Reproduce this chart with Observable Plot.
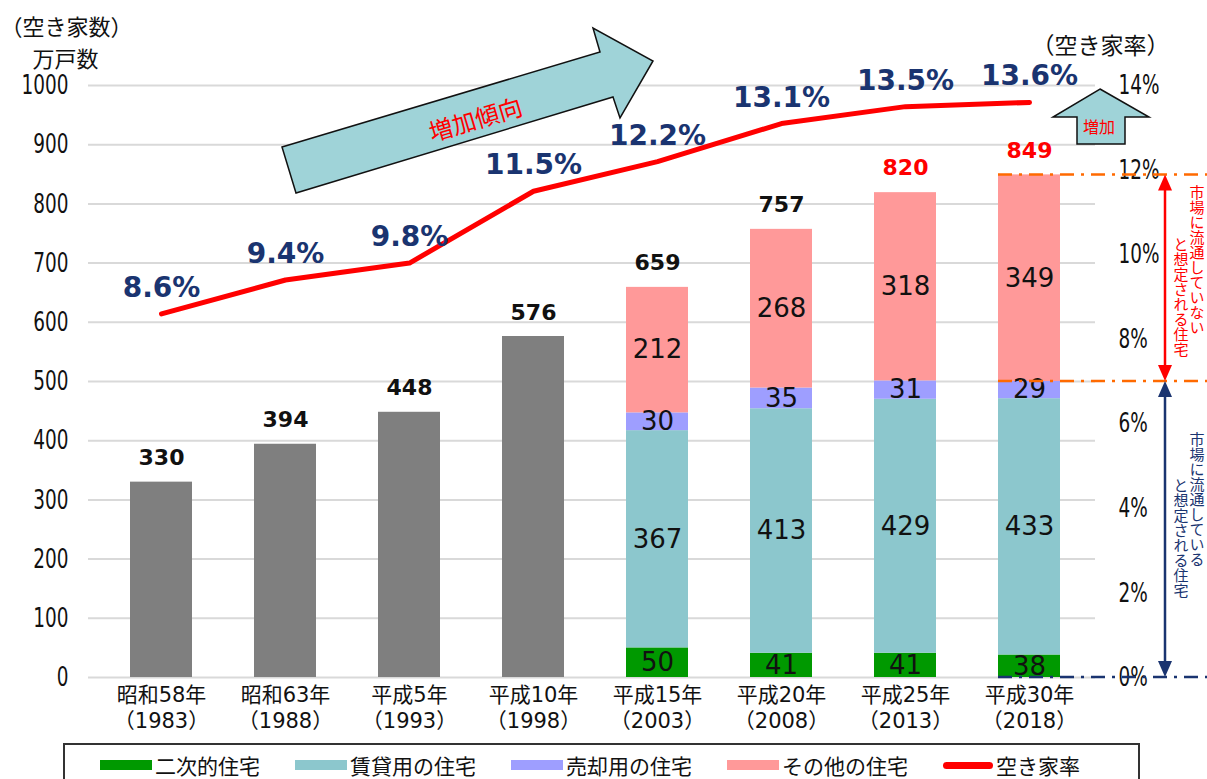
<!DOCTYPE html>
<html><head><meta charset="utf-8">
<script src="https://cdn.jsdelivr.net/npm/d3@7"></script>
<script src="https://cdn.jsdelivr.net/npm/@observablehq/plot@0.6"></script>
<style>
body{margin:0;background:#fff;font-family:"Noto Sans CJK JP",sans-serif;}
#wrap{position:relative;width:1207px;height:779px;overflow:hidden;background:#fff;}
#chart svg{display:block;}
.legend{position:absolute;left:63px;top:743px;width:1077px;height:60px;border:2px solid #333;box-sizing:border-box;display:flex;gap:35px;padding-left:35px;padding-top:8px;align-items:flex-start;}
.li{display:flex;align-items:center;font-size:21px;color:#111;line-height:24px;}
.sw{width:52px;height:10px;margin-right:3px;}
.ln{width:50px;height:7px;border-radius:4px;margin-right:3px;background:#ff0000;}
</style></head>
<body><div id="wrap"><div id="chart"></div><div class="legend" id="legend"></div></div>
<script>
// ---- data ----
const categories = ["昭和58年","昭和63年","平成5年","平成10年","平成15年","平成20年","平成25年","平成30年"];
const years = ["（1983）","（1988）","（1993）","（1998）","（2003）","（2008）","（2013）","（2018）"];
const totals = [330, 394, 448, 576, 659, 757, 820, 849];
const rates = [8.6, 9.4, 9.8, 11.5, 12.2, 13.1, 13.5, 13.6];
const stackCategories = ["平成15年","平成20年","平成25年","平成30年"];
const secondary = [50, 41, 41, 38];
const rental = [367, 413, 429, 433];
const forSale = [30, 35, 31, 29];
const other = [212, 268, 318, 349];
const seriesNames = ["二次的住宅","賃貸用の住宅","売却用の住宅","その他の住宅"];
const seriesColors = ["#009900","#8cc7cd","#9e9eff","#ff9999"];
const redTotals = ["平成25年","平成30年"];
const leftTicks = [0,100,200,300,400,500,600,700,800,900,1000];
const rightTicks = [0,2,4,6,8,10,12,14];
const rateLabel = "空き家率";

// ---- derived tables ----
const rateMax = 14, countMax = 1000;
const toLeft = r => r * countMax / rateMax;
const totalRows = categories.map((c, i) => ({cat: c, total: totals[i]}));
const earlyRows = totalRows.filter(d => !stackCategories.includes(d.cat));
const seriesValues = [secondary, rental, forSale, other];
const stackRows = [];
stackCategories.forEach((c, j) => {
  let acc = 0;
  seriesNames.forEach((s, k) => {
    const v = seriesValues[k][j];
    stackRows.push({cat: c, series: s, value: v, y1: acc, y2: acc + v});
    acc += v;
  });
});
const rateRows = categories.map((c, i) => ({cat: c, rate: rates[i]}));
const numFont = "DejaVu Sans";
const tickFont = "DejaVu Sans Condensed";
const cjk = "Noto Sans CJK JP";
const labFont = "DejaVu Sans, Noto Sans CJK JP";

const chart = Plot.plot({
  width: 1207, height: 741,
  marginLeft: 88, marginRight: 112, marginTop: 85, marginBottom: 64,
  x: {type: "band", domain: categories, range: [99, 1091], paddingInner: 0.5, paddingOuter: 0.25, axis: null},
  y: {domain: [0, 1000], axis: null},
  color: {domain: seriesNames, range: seriesColors},
  marks: [
    Plot.ruleY(leftTicks, {stroke: "#d9d9d9", strokeWidth: 2}),
    Plot.barY(earlyRows, {x: "cat", y: "total", fill: "#7f7f7f"}),
    Plot.barY(stackRows, {x: "cat", y1: "y1", y2: "y2", fill: "series"}),
    Plot.text(stackRows, {x: "cat", y: d => (d.y1 + d.y2) / 2, text: "value", fontSize: 26, fontFamily: numFont, fill: "#111"}),
    Plot.text(totalRows.filter(d => !redTotals.includes(d.cat)), {x: "cat", y: "total", text: "total", dy: -24, fontSize: 22, fontWeight: "bold", fontFamily: numFont, fill: "#111"}),
    Plot.text(totalRows.filter(d => redTotals.includes(d.cat)), {x: "cat", y: "total", text: "total", dy: -24, fontSize: 22, fontWeight: "bold", fontFamily: numFont, fill: "#ff0000"}),
    Plot.line(rateRows, {x: "cat", y: d => toLeft(d.rate), stroke: "#ff0000", strokeWidth: 5}),
    Plot.text(rateRows, {x: "cat", y: d => toLeft(d.rate), text: d => d.rate.toFixed(1) + "%", dy: -26, fontSize: 28, fontWeight: "bold", fontFamily: numFont, fill: "#1a3470"}),
    Plot.text(leftTicks, {y: d => d, text: d => String(d), frameAnchor: "left", dx: -20, textAnchor: "end", fontSize: 27, fontFamily: tickFont, fill: "#111"}),
    Plot.text(rightTicks, {y: d => toLeft(d), text: d => d + "%", frameAnchor: "right", dx: 23, textAnchor: "start", fontSize: 27, fontFamily: tickFont, fill: "#111"}),
    Plot.text(categories, {x: d => d, text: d => d, frameAnchor: "bottom", dy: 24, fontSize: 21, fontFamily: labFont, fill: "#111"}),
    Plot.text(categories, {x: d => d, text: (d, i) => years[i], frameAnchor: "bottom", dy: 50, fontSize: 21, fontFamily: labFont, fill: "#111"}),
    Plot.text(["（空き家数）"], {frameAnchor: "top-left", text: d => d, dx: -88, dy: -66, textAnchor: "start", fontSize: 22, fontFamily: cjk, fill: "#111"}),
    Plot.text(["万戸数"], {frameAnchor: "top-left", text: d => d, dx: -56, dy: -34, textAnchor: "start", fontSize: 22, fontFamily: cjk, fill: "#111"}),
    Plot.text(["（空き家率）"], {frameAnchor: "top-right", text: d => d, dx: -64, dy: -48, textAnchor: "start", fontSize: 23, fontFamily: cjk, fill: "#111"})
  ]
});
document.getElementById("chart").appendChild(chart);

// condense the axis tick labels horizontally
d3.select(chart).selectAll(`g[font-family="${tickFont}"] text`).each(function() {
  const t = this.getAttribute("transform") || "";
  this.setAttribute("transform", t + " scale(0.76,1)");
});

// ---- annotations drawn with the plot's scales ----
const svg = d3.select(chart);
const ys = chart.scale("y"), xs = chart.scale("x");
const Y = v => ys.apply(v);
const lastCat = stackCategories[stackCategories.length - 1];
const lastIdx = categories.indexOf(lastCat);
const xLeft = xs.apply(lastCat);
const topOther = totals[lastIdx];
const topMarket = secondary[3] + rental[3] + forSale[3];
const g = svg.append("g");
const dashLine = (yv, color) => g.append("line").attr("x1", xLeft).attr("x2", 1207).attr("y1", Y(yv)).attr("y2", Y(yv))
  .attr("stroke", color).attr("stroke-width", 2.5).attr("stroke-dasharray", "14,7,3,7");
dashLine(topOther, "#ff6a00");
dashLine(topMarket, "#ff6a00");
dashLine(0, "#1a3470");
const ax = 1165;
const dblArrow = (ya, yb, color) => {
  const y1 = Y(ya), y2 = Y(yb);
  g.append("line").attr("x1", ax).attr("x2", ax).attr("y1", y1 + 14).attr("y2", y2 - 14).attr("stroke", color).attr("stroke-width", 2.5);
  g.append("path").attr("d", `M${ax},${y1}L${ax-7},${y1+16}L${ax+7},${y1+16}Z`).attr("fill", color);
  g.append("path").attr("d", `M${ax},${y2}L${ax-7},${y2-16}L${ax+7},${y2-16}Z`).attr("fill", color);
};
dblArrow(topOther, topMarket, "#ff0000");
dblArrow(topMarket, 0, "#1a3470");
const vtext = (s, x, y, color) => g.append("text").text(s).attr("x", x).attr("y", y)
  .attr("fill", color).attr("font-size", 15).attr("font-family", cjk)
  .style("writing-mode", "vertical-rl").attr("text-anchor", "start");
vtext("市場に流通していない", 1197, Y(topOther) + 10, "#ff0000");
vtext("と想定される住宅", 1181, Y(topOther) + 62, "#ff0000");
vtext("市場に流通している", 1197, Y(topMarket) + 51, "#1a3470");
vtext("と想定される住宅", 1181, Y(topMarket) + 97, "#1a3470");

// trend arrow
g.append("path").attr("d", "M282,147L600,52L593,28L653,61L620,118L613,97L296,193Z")
  .attr("fill", "#9fd3d8").attr("stroke", "#111").attr("stroke-width", 1.5);
g.append("text").text("増加傾向").attr("transform", "translate(475,118) rotate(-16.6)")
  .attr("text-anchor", "middle").attr("dominant-baseline", "central")
  .attr("fill", "#ff0000").attr("font-size", 24).attr("font-family", cjk);
// up arrow
g.append("path").attr("d", "M1100,89L1149,117L1125,117L1125,144L1077,144L1077,117L1053,117Z")
  .attr("fill", "#9fd3d8").attr("stroke", "#111").attr("stroke-width", 1.5);
g.append("text").text("増加").attr("x", 1099).attr("y", 126)
  .attr("text-anchor", "middle").attr("dominant-baseline", "central")
  .attr("fill", "#ff0000").attr("font-size", 16).attr("font-family", cjk);

// ---- legend ----
const lg = document.getElementById("legend");
seriesNames.forEach((s, k) => {
  const it = document.createElement("div"); it.className = "li";
  it.innerHTML = `<span class="sw" style="background:${seriesColors[k]}"></span><span>${s}</span>`;
  lg.appendChild(it);
});
const it = document.createElement("div"); it.className = "li";
it.innerHTML = `<span class="ln"></span><span>${rateLabel}</span>`;
lg.appendChild(it);
</script></body></html>
